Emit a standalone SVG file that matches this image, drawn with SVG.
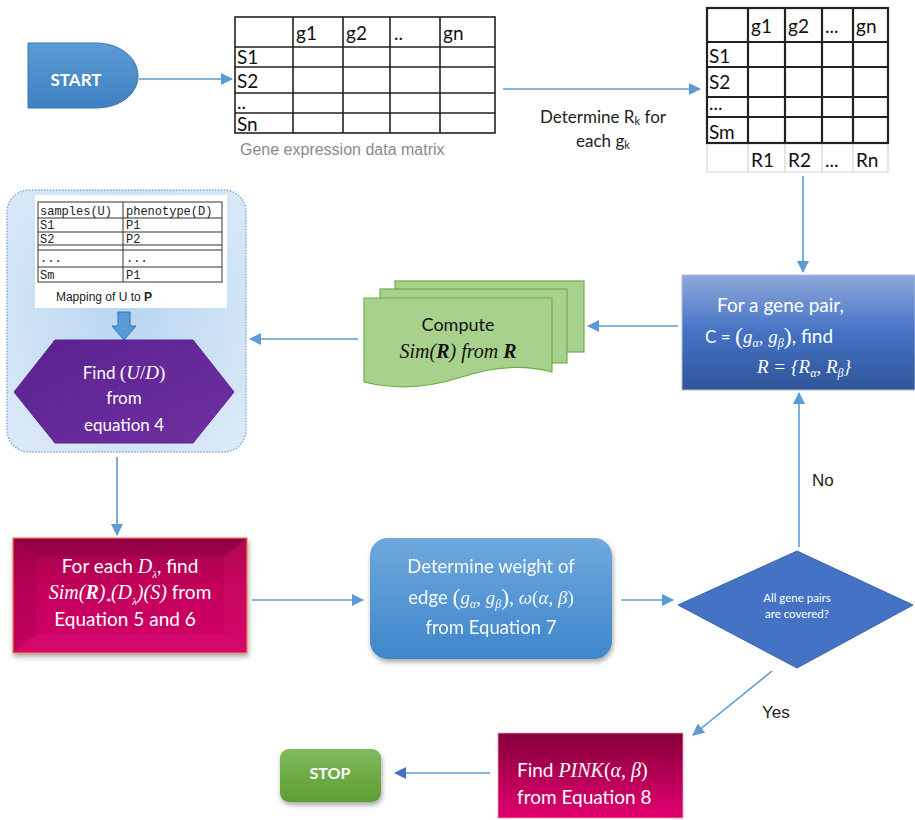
<svg xmlns="http://www.w3.org/2000/svg" width="915" height="820" viewBox="0 0 915 820">
<style>
.cal{font-family:Lato,"Liberation Sans",sans-serif}
.wt{fill:#fff}
.m{font-family:"Liberation Serif",serif}
.mi{font-family:"Liberation Serif",serif;font-style:italic}
.grid{stroke:#222;fill:none}
.tt{font-family:Lato,"Liberation Sans",sans-serif;font-size:19px;fill:#111}
.conn{stroke:#5B9BD5;stroke-width:1.6;fill:none}
.mono{font-family:"Liberation Mono",monospace;font-size:12px;fill:#222}
</style>
<defs>
<marker id="ah" markerUnits="userSpaceOnUse" markerWidth="12" markerHeight="12" refX="11" refY="6" orient="auto">
<path d="M0,0 L12,6 L0,12 z" fill="#5B9BD5"/>
</marker>
<marker id="ah2" markerUnits="userSpaceOnUse" markerWidth="12" markerHeight="12" refX="11" refY="6" orient="auto">
<path d="M0,0 L12,6 L0,12 z" fill="#4472C4"/>
</marker>
<linearGradient id="gStart" x1="0" y1="0" x2="0" y2="1"><stop offset="0" stop-color="#5B9BD5"/><stop offset="1" stop-color="#3F80C2"/></linearGradient>
<linearGradient id="gPair" x1="0" y1="0" x2="0" y2="1"><stop offset="0" stop-color="#8EA9DB"/><stop offset="0.5" stop-color="#4472C4"/><stop offset="1" stop-color="#2F5597"/></linearGradient>
<linearGradient id="gWeight" x1="0" y1="0" x2="0" y2="1"><stop offset="0" stop-color="#6FA8DC"/><stop offset="1" stop-color="#3F86CB"/></linearGradient>
<linearGradient id="gPurple" x1="0" y1="0" x2="1" y2="1"><stop offset="0" stop-color="#5A2190"/><stop offset="1" stop-color="#7030A0"/></linearGradient>
<linearGradient id="gRed1" x1="0" y1="0" x2="0" y2="1"><stop offset="0" stop-color="#A0004A"/><stop offset="0.4" stop-color="#C2005A"/><stop offset="1" stop-color="#D2006A"/></linearGradient>
<linearGradient id="gRed2" x1="0" y1="0" x2="0" y2="1"><stop offset="0" stop-color="#85003A"/><stop offset="1" stop-color="#E2006F"/></linearGradient>
<linearGradient id="gStop" x1="0" y1="0" x2="0" y2="1"><stop offset="0" stop-color="#80BA5C"/><stop offset="1" stop-color="#5C9E31"/></linearGradient>
<radialGradient id="gCont" cx="0.5" cy="0.45" r="0.7"><stop offset="0" stop-color="#B9D5F2"/><stop offset="1" stop-color="#DCEAF8"/></radialGradient>
<filter id="sh" x="-10%" y="-10%" width="130%" height="140%"><feDropShadow dx="1" dy="3" stdDeviation="2.5" flood-color="#000" flood-opacity="0.35"/></filter>
</defs>

<g id="start">
<path d="M28,43 H96 C120,43 138,58 138,76 C138,94 120,108 96,108 H28 Z" fill="url(#gStart)" stroke="#3A75B0" stroke-width="1"/>
<text x="76" y="86" class="cal wt" font-size="17" font-weight="bold" text-anchor="middle">START</text>
</g>

<g id="matrix1">
<rect x="235" y="17" width="260" height="116" class="grid" stroke-width="1.6"/>
<path class="grid" stroke-width="1.6" d="M235,47 H495 M235,67 H495 M235,93 H495 M235,113 H495 M293,17 V133 M343,17 V133 M390,17 V133 M440,17 V133"/>
<text class="tt" x="296" y="40">g1</text>
<text class="tt" x="346" y="40">g2</text>
<text class="tt" x="394" y="40">..</text>
<text class="tt" x="443" y="40">gn</text>
<text class="tt" font-size="18" x="237" y="64">S1</text>
<text class="tt" font-size="18" x="237" y="88">S2</text>
<text class="tt" font-size="14" x="237" y="109">..</text>
<text class="tt" font-size="18" x="237" y="131">Sn</text>
<text x="240" y="155" font-family="Liberation Sans,sans-serif" font-size="16" fill="#8a8a8a">Gene expression data matrix</text>
</g>

<g id="label-rk">
<text x="603" y="123" class="cal" font-size="17" fill="#222" text-anchor="middle">Determine R<tspan font-size="11" dy="2">k</tspan><tspan dy="-2"> for</tspan></text>
<text x="603" y="147" class="cal" font-size="17" fill="#222" text-anchor="middle">each g<tspan font-size="11" dy="2">k</tspan></text>
</g>

<g id="matrix2">
<path d="M707,143 V172 H888 V143 M748,143 V172 M785,143 V172 M822,143 V172 M853,143 V172" stroke="#d4d4d4" stroke-width="1.2" fill="none"/>
<rect x="707" y="8" width="181" height="135" class="grid" stroke-width="2.2"/>
<path class="grid" stroke-width="2.2" d="M707,42 H888 M707,67 H888 M707,97 H888 M707,117 H888 M748,8 V143 M785,8 V143 M822,8 V143 M853,8 V143"/>
<text class="tt" font-size="20" x="751" y="33">g1</text>
<text class="tt" font-size="20" x="788" y="33">g2</text>
<text class="tt" font-size="20" x="825" y="33">...</text>
<text class="tt" font-size="20" x="856" y="33">gn</text>
<text class="tt" font-size="19" x="709" y="63">S1</text>
<text class="tt" font-size="19" x="709" y="89">S2</text>
<text class="tt" font-size="14" x="709" y="110">...</text>
<text class="tt" font-size="19" x="709" y="139">Sm</text>
<text class="tt" font-size="20" x="751" y="167">R1</text>
<text class="tt" font-size="20" x="788" y="167">R2</text>
<text class="tt" font-size="20" x="825" y="167">...</text>
<text class="tt" font-size="20" x="856" y="167">Rn</text>
</g>

<g id="gene-pair">
<rect x="682" y="275" width="233" height="115" fill="url(#gPair)" stroke="#A9BEE6" stroke-width="1"/>
<text x="717" y="312" class="cal wt" font-size="19">For a gene pair,</text>
<text x="705" y="343" class="cal wt" font-size="17">C = <tspan class="m" font-size="24" dy="1">(</tspan><tspan class="mi" font-size="19" dy="-1">g</tspan><tspan class="mi" font-size="12" dy="4">α</tspan><tspan class="m" font-size="19" dy="-4">, </tspan><tspan class="mi" font-size="19">g</tspan><tspan class="mi" font-size="12" dy="4">β</tspan><tspan class="m" font-size="24" dy="-3">)</tspan><tspan font-size="19" dy="-1">, find</tspan></text>
<text x="757" y="373" class="mi wt" font-size="19">R <tspan class="m">= {</tspan>R<tspan font-size="12" dy="4">α</tspan><tspan class="m" dy="-4">, </tspan>R<tspan font-size="12" dy="4">β</tspan><tspan class="m" dy="-4">}</tspan></text>
</g>

<g id="compute-sim">
<rect x="395" y="281" width="189" height="71" fill="#A9D18E" stroke="#70AD47" stroke-width="1.2"/>
<rect x="380" y="289" width="187" height="74" fill="#A9D18E" stroke="#70AD47" stroke-width="1.2"/>
<path d="M364,298 H552 V372 C522,364 492,367 462,377 C428,388 396,390 364,382 Z" fill="#A9D18E" stroke="#70AD47" stroke-width="1.2"/>
<text x="458" y="331" class="cal" font-size="18" fill="#111" text-anchor="middle">Compute</text>
<text x="458" y="358" class="mi" font-size="20" fill="#111" text-anchor="middle">Sim<tspan class="m">(</tspan><tspan font-weight="bold">R</tspan><tspan class="m">)</tspan> from <tspan font-weight="bold">R</tspan></text>
</g>

<g id="mapping-container">
<rect x="7" y="190" width="239" height="262" rx="22" fill="url(#gCont)" stroke="#7FA7D6" stroke-width="1.4" stroke-dasharray="1.5 1.5"/>
<rect x="35" y="195" width="192" height="113" fill="#fff"/>
<rect x="38" y="202" width="184" height="80" fill="none" stroke="#333" stroke-width="1"/>
<path d="M38,218 H222 M38,232 H222 M38,245 H222 M38,250 H222 M38,267 H222 M123,202 V282" stroke="#333" stroke-width="1" fill="none"/>
<text class="mono" x="40" y="215">samples(U)</text>
<text class="mono" x="126" y="215">phenotype(D)</text>
<text class="mono" x="40" y="229">S1</text>
<text class="mono" x="126" y="229">P1</text>
<text class="mono" x="40" y="243">S2</text>
<text class="mono" x="126" y="243">P2</text>
<text class="mono" x="40" y="262" font-size="8">...</text>
<text class="mono" x="126" y="262" font-size="8">...</text>
<text class="mono" x="40" y="279">Sm</text>
<text class="mono" x="126" y="279">P1</text>
<text x="104" y="301" font-family="Liberation Sans,sans-serif" font-size="12" fill="#222" text-anchor="middle">Mapping of U to <tspan font-weight="bold">P</tspan></text>
<path d="M118,312 H130 V326 H136 L124,340 L112,326 H118 Z" fill="#5B9BD5" stroke="#2E75B6" stroke-width="1"/>
<path d="M14,392 L55,340 H193 L234,392 L193,443 H55 Z" fill="url(#gPurple)" stroke="#5A2190" stroke-width="1"/>
<text x="124" y="379" class="cal wt" font-size="17" text-anchor="middle">Find <tspan class="m" font-size="19">(</tspan><tspan class="mi" font-size="19">U</tspan><tspan class="m" font-size="19">/</tspan><tspan class="mi" font-size="19">D</tspan><tspan class="m" font-size="19">)</tspan></text>
<text x="124" y="404" class="cal wt" font-size="17" text-anchor="middle">from</text>
<text x="124" y="431" class="cal wt" font-size="17" text-anchor="middle">equation 4</text>
</g>

<g id="for-each-d">
<rect x="13" y="538" width="234" height="115" fill="url(#gRed1)" stroke="#F08050" stroke-width="1.2" filter="url(#sh)"/>
<path d="M14,539 L36,556 H224 L246,539 Z" fill="#7A0038" opacity="0.35"/>
<path d="M14,539 L36,556 V634 L14,652 Z" fill="#8A0040" opacity="0.25"/>
<path d="M246,539 L224,556 V634 L246,652 Z" fill="#E0207A" opacity="0.2"/>
<path d="M14,652 L36,634 H224 L246,652 Z" fill="#E8207A" opacity="0.25"/>
<text x="130" y="573" class="cal wt" font-size="19" text-anchor="middle">For each <tspan class="mi" font-size="20">D</tspan><tspan class="mi" font-size="11" dy="5">λ</tspan><tspan dy="-5">, find</tspan></text>
<text x="130" y="599" class="mi wt" font-size="20" text-anchor="middle">Sim<tspan class="m">(</tspan><tspan font-weight="bold">R</tspan><tspan class="m">)</tspan><tspan font-size="11" dy="6">*</tspan><tspan class="m" dy="-6">(</tspan>D<tspan font-size="11" dy="6">λ</tspan><tspan class="m" dy="-6">)(</tspan>S<tspan class="m">)</tspan><tspan class="cal" font-style="normal" font-size="19"> from</tspan></text>
<text x="125" y="626" class="cal wt" font-size="19" text-anchor="middle">Equation 5 and 6</text>
</g>

<g id="determine-weight">
<rect x="370" y="538" width="242" height="121" rx="18" fill="url(#gWeight)" filter="url(#sh)"/>
<text x="491" y="573" class="cal wt" font-size="18.5" text-anchor="middle" opacity="0.95">Determine weight of</text>
<text x="491" y="604" class="cal wt" font-size="18.5" text-anchor="middle" opacity="0.95">edge <tspan class="m" font-size="24" dy="1">(</tspan><tspan class="mi" font-size="19" dy="-1">g</tspan><tspan class="mi" font-size="12" dy="4">α</tspan><tspan class="m" font-size="19" dy="-4">, </tspan><tspan class="mi" font-size="19">g</tspan><tspan class="mi" font-size="12" dy="4">β</tspan><tspan class="m" font-size="24" dy="-3">)</tspan><tspan class="m" font-size="19" dy="-1">, </tspan><tspan class="mi" font-size="19">ω</tspan><tspan class="m" font-size="19">(</tspan><tspan class="mi" font-size="19">α</tspan><tspan class="m" font-size="19">, </tspan><tspan class="mi" font-size="19">β</tspan><tspan class="m" font-size="19">)</tspan></text>
<text x="491" y="634" class="cal wt" font-size="18.5" text-anchor="middle" opacity="0.95">from Equation 7</text>
</g>

<g id="all-covered">
<path d="M797,551 L913,605 L797,668 L678,605 Z" fill="#4472C4" stroke="#3A62AC" stroke-width="1"/>
<text x="797" y="602" class="cal wt" font-size="11.5" text-anchor="middle">All gene pairs</text>
<text x="797" y="618" class="cal wt" font-size="11.5" text-anchor="middle">are covered?</text>
</g>

<g id="find-pink">
<rect x="498" y="733" width="185" height="85" fill="url(#gRed2)" stroke="#F0A0C0" stroke-width="0.8"/>
<text x="517" y="777" class="cal wt" font-size="19">Find <tspan class="mi" font-size="20">PINK</tspan><tspan class="m" font-size="20">(</tspan><tspan class="mi" font-size="20">α</tspan><tspan class="m" font-size="20">, </tspan><tspan class="mi" font-size="20">β</tspan><tspan class="m" font-size="20">)</tspan></text>
<text x="517" y="804" class="cal wt" font-size="19">from Equation 8</text>
</g>

<g id="stop">
<rect x="280" y="749" width="101" height="53" rx="9" fill="url(#gStop)" filter="url(#sh)"/>
<text x="330" y="779" class="cal wt" font-size="16" font-weight="bold" text-anchor="middle">STOP</text>
</g>

<g id="connectors">
<line class="conn" x1="139" y1="79" x2="232" y2="79" marker-end="url(#ah)"/>
<line class="conn" x1="503" y1="89" x2="700" y2="89" marker-end="url(#ah)"/>
<line class="conn" x1="803" y1="176" x2="803" y2="272" marker-end="url(#ah)"/>
<line class="conn" x1="678" y1="326" x2="588" y2="326" marker-end="url(#ah)"/>
<line class="conn" x1="358" y1="339" x2="250" y2="339" marker-end="url(#ah)"/>
<line class="conn" x1="117" y1="457" x2="117" y2="535" marker-end="url(#ah)"/>
<line class="conn" x1="252" y1="600" x2="363" y2="600" marker-end="url(#ah)"/>
<line class="conn" x1="621" y1="600" x2="673" y2="600" marker-end="url(#ah)"/>
<line class="conn" x1="799" y1="547" x2="799" y2="393" marker-end="url(#ah)"/>
<text x="812" y="486" font-family="Liberation Sans,sans-serif" font-size="17" fill="#222">No</text>
<line class="conn" x1="772" y1="671" x2="693" y2="735" marker-end="url(#ah)"/>
<text x="762" y="718" font-family="Liberation Sans,sans-serif" font-size="17" fill="#222">Yes</text>
<line class="conn" x1="490" y1="773" x2="395" y2="773" stroke="#4472C4" marker-end="url(#ah2)"/>
</g>
</svg>
